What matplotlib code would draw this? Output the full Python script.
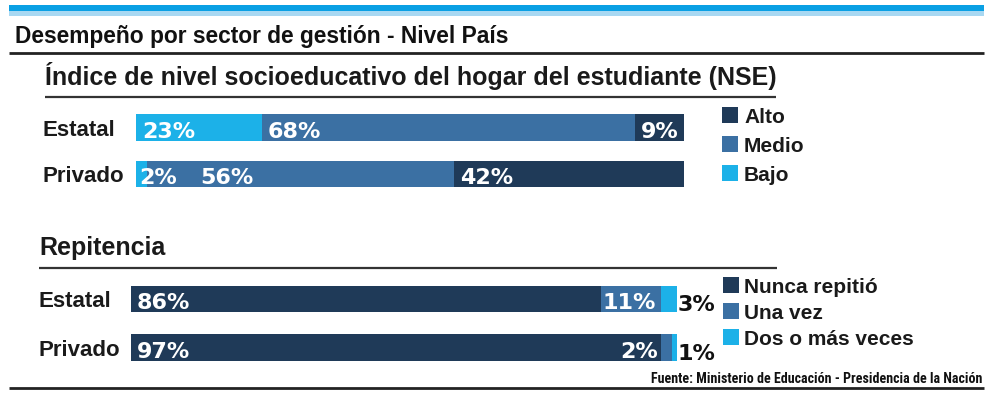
import matplotlib
matplotlib.use("Agg")
import matplotlib.pyplot as plt
from matplotlib import font_manager
from matplotlib.font_manager import FontProperties
import matplotlib.transforms as mtransforms

# ---------------- data ----------------
categories = ["Estatal", "Privado"]

nse_series = ["Bajo", "Medio", "Alto"]
nse_bajo = [23, 2]
nse_medio = [68, 56]
nse_alto = [9, 42]

rep_series = ["Nunca repitió", "Una vez", "Dos o más veces"]
rep_nunca = [86, 97]
rep_una = [11, 2]
rep_dos = [3, 1]

title = "Desempeño por sector de gestión - Nivel País"
nse_title = "Índice de nivel socioeducativo del hogar del estudiante (NSE)"
rep_title = "Repitencia"
source = "Fuente: Ministerio de Educación - Presidencia de la Nación"

# ---------------- style ----------------
C_DARK = "#1f3a58"
C_MED = "#3b70a3"
C_LIGHT = "#1cb1e8"

MAIN = "Liberation Sans"
NUM = "DejaVu Sans"

names = {f.name for f in font_manager.fontManager.ttflist}
if "Roboto Condensed" in names:
    cond_fp = lambda size: FontProperties(family="Roboto Condensed", weight="bold",
                                          style="normal", size=size)
else:
    cond_fp = lambda size: FontProperties(family=MAIN, weight="bold", size=size * 0.82)

W, H = 1000, 396
fig = plt.figure(figsize=(W / 100, H / 100), dpi=100)
fig.patch.set_facecolor("white")

bg = fig.add_axes([0, 0, 1, 1])
bg.set_xlim(0, W)
bg.set_ylim(H, 0)
bg.axis("off")


def px_axes(x0, x1, y0, y1):
    return fig.add_axes([x0 / W, 1 - y1 / H, (x1 - x0) / W, (y1 - y0) / H])


def hline(y, x0, x1, lw, color="#222222"):
    bg.plot([x0, x1], [y, y], color=color, lw=lw, solid_capstyle="butt")


# top blue band
bg.fill_between([9, 984], 5, 10.5, color="#0aa0e4", lw=0)
bg.fill_between([9, 984], 10.5, 16, color="#a8d8f2", lw=0)

# title
bg.text(15, 43, title, family=MAIN, weight="bold", fontsize=16.4,
        color="#111111", va="baseline", ha="left")
hline(52.5, 9, 984, 2.0)

# NSE section
bg.text(45, 85, nse_title, family=MAIN, weight="bold", fontsize=18,
        color="#1a1a1a", va="baseline", ha="left")
hline(97, 45, 776, 1.6, "#333333")

# Repitencia section
bg.text(39, 255, rep_title, family=MAIN, weight="bold", fontsize=18,
        color="#1a1a1a", va="baseline", ha="left")
hline(268, 39, 777, 1.6, "#333333")

# source & bottom line
bg.text(982, 383, source, fontproperties=cond_fp(10.1),
        color="#111111", va="baseline", ha="right")
hline(387.5, 9, 984, 2.0)


def stacked(ax, series_vals, colors, height):
    lefts = [0] * len(categories)
    segs = []
    ys = list(range(len(categories)))
    for vals, col in zip(series_vals, colors):
        ax.barh(ys, vals, left=lefts, height=height, color=col, edgecolor="none")
        segs.append([(l, v) for l, v in zip(lefts, vals)])
        lefts = [l + v for l, v in zip(lefts, vals)]
    ax.set_xlim(0, 100)
    ax.set_ylim(len(categories) - 0.5, -0.5)
    ax.axis("off")
    return segs


def put(ax, x, y, s, dx, color="white", ha="left", dy=0, size=16):
    tr = mtransforms.offset_copy(ax.transData, fig=fig, x=dx * 0.72, y=dy * 0.72, units="points")
    ax.text(x, y, s, transform=tr, family=NUM, weight="bold", fontsize=size,
            color=color, ha=ha, va="center_baseline", clip_on=False)


def cat_labels(ax, x_px):
    for ci, name in enumerate(categories):
        tr = mtransforms.blended_transform_factory(bg.transData, ax.transData)
        bg.text(x_px, ci, name, transform=tr, family=MAIN, weight="bold", fontsize=16,
                color="#1a1a1a", ha="left", va="center_baseline")


# ---- NSE chart ----
ax1 = px_axes(136, 684, 104.25, 197.25)
segs1 = stacked(ax1, [nse_bajo, nse_medio, nse_alto], [C_LIGHT, C_MED, C_DARK], 0.58)
for si, seg in enumerate(segs1):
    for ci, (l, v) in enumerate(seg):
        dx = 6
        if (si, ci) == (0, 1):
            dx = 3
        if (si, ci) == (1, 1):
            dx = 53
        put(ax1, l, ci, f"{v}%", dx, dy=-2)
cat_labels(ax1, 43)

for i, (name, col) in enumerate(zip(nse_series[::-1], [C_DARK, C_MED, C_LIGHT])):
    y0 = 107 + i * 29
    bg.add_patch(plt.Rectangle((722, y0), 16, 16, color=col, lw=0))
    bg.text(744, y0 + 16, name, family=MAIN, weight="bold", fontsize=15,
            color="#1a1a1a", va="baseline", ha="left")

# ---- Repitencia chart ----
ax2 = px_axes(131, 677, 274.75, 371.75)
segs2 = stacked(ax2, [rep_nunca, rep_una, rep_dos], [C_DARK, C_MED, C_LIGHT], 0.55)
for si, seg in enumerate(segs2):
    for ci, (l, v) in enumerate(seg):
        if si == 0:
            put(ax2, l, ci, f"{v}%", 6, dy=-2)
        elif si == 1:
            if ci == 0:
                put(ax2, l, ci, f"{v}%", 2, dy=-2)
            else:
                put(ax2, l, ci, f"{v}%", -3, ha="right", dy=-2)
        else:
            put(ax2, l + v, ci, f"{v}%", 1, color="#111111", dy=-4, size=16)
cat_labels(ax2, 39)

for i, (name, col) in enumerate(zip(rep_series, [C_DARK, C_MED, C_LIGHT])):
    y0 = 277 + i * 26
    bg.add_patch(plt.Rectangle((723, y0), 15.5, 16, color=col, lw=0))
    bg.text(744, y0 + 16, name, family=MAIN, weight="bold", fontsize=15,
            color="#1a1a1a", va="baseline", ha="left")

fig.savefig("out.png", dpi=100, facecolor="white")
